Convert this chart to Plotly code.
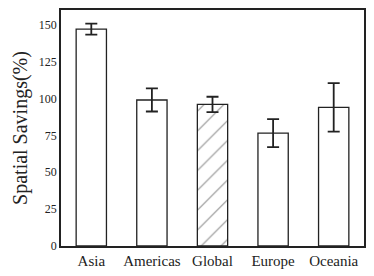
import plotly.graph_objects as go

categories = ["Asia", "Americas", "Global", "Europe", "Oceania"]
values = [147, 99, 96, 76.5, 94]
errors = [3.7, 7.8, 5.2, 9.5, 16.4]
patterns = ["", "", "/", "", ""]

fig = go.Figure()
fig.add_trace(go.Bar(
    x=categories, y=values,
    width=0.5,
    marker=dict(color="white", line=dict(color="#222", width=1.3),
                pattern=dict(shape=patterns, fgcolor="#222", bgcolor="white", size=14, solidity=0.08)),
    error_y=dict(type="data", array=errors, color="#222", thickness=1.8, width=6),
    hoverinfo="skip",
))
font = "'Liberation Serif', 'Times New Roman', serif"
fig.update_layout(
    width=374, height=276,
    margin=dict(l=61, r=10, t=10, b=30, autoexpand=False),
    plot_bgcolor="white", paper_bgcolor="white",
    showlegend=False,
    font=dict(family=font, color="#222"),
    bargap=0.5,
)
fig.update_xaxes(showline=True, mirror=True, linecolor="#222", linewidth=1.5, automargin=False,
                 ticks="", tickfont=dict(size=15, family=font, color="#222"), showgrid=False)
fig.update_yaxes(range=[0, 160], tickvals=[0, 25, 50, 75, 100, 125, 150], automargin=False,
                 showline=True, mirror=True, linecolor="#222", linewidth=1.5,
                 ticks="", tickfont=dict(size=12, family=font, color="#222"), showgrid=False,
                 title=dict(text="Spatial Savings(%)", font=dict(size=20, family=font), standoff=6))
fig.write_html("out.html", config={"displayModeBar": False},
               post_script="document.body.style.margin='0';document.body.style.overflow='hidden';")
